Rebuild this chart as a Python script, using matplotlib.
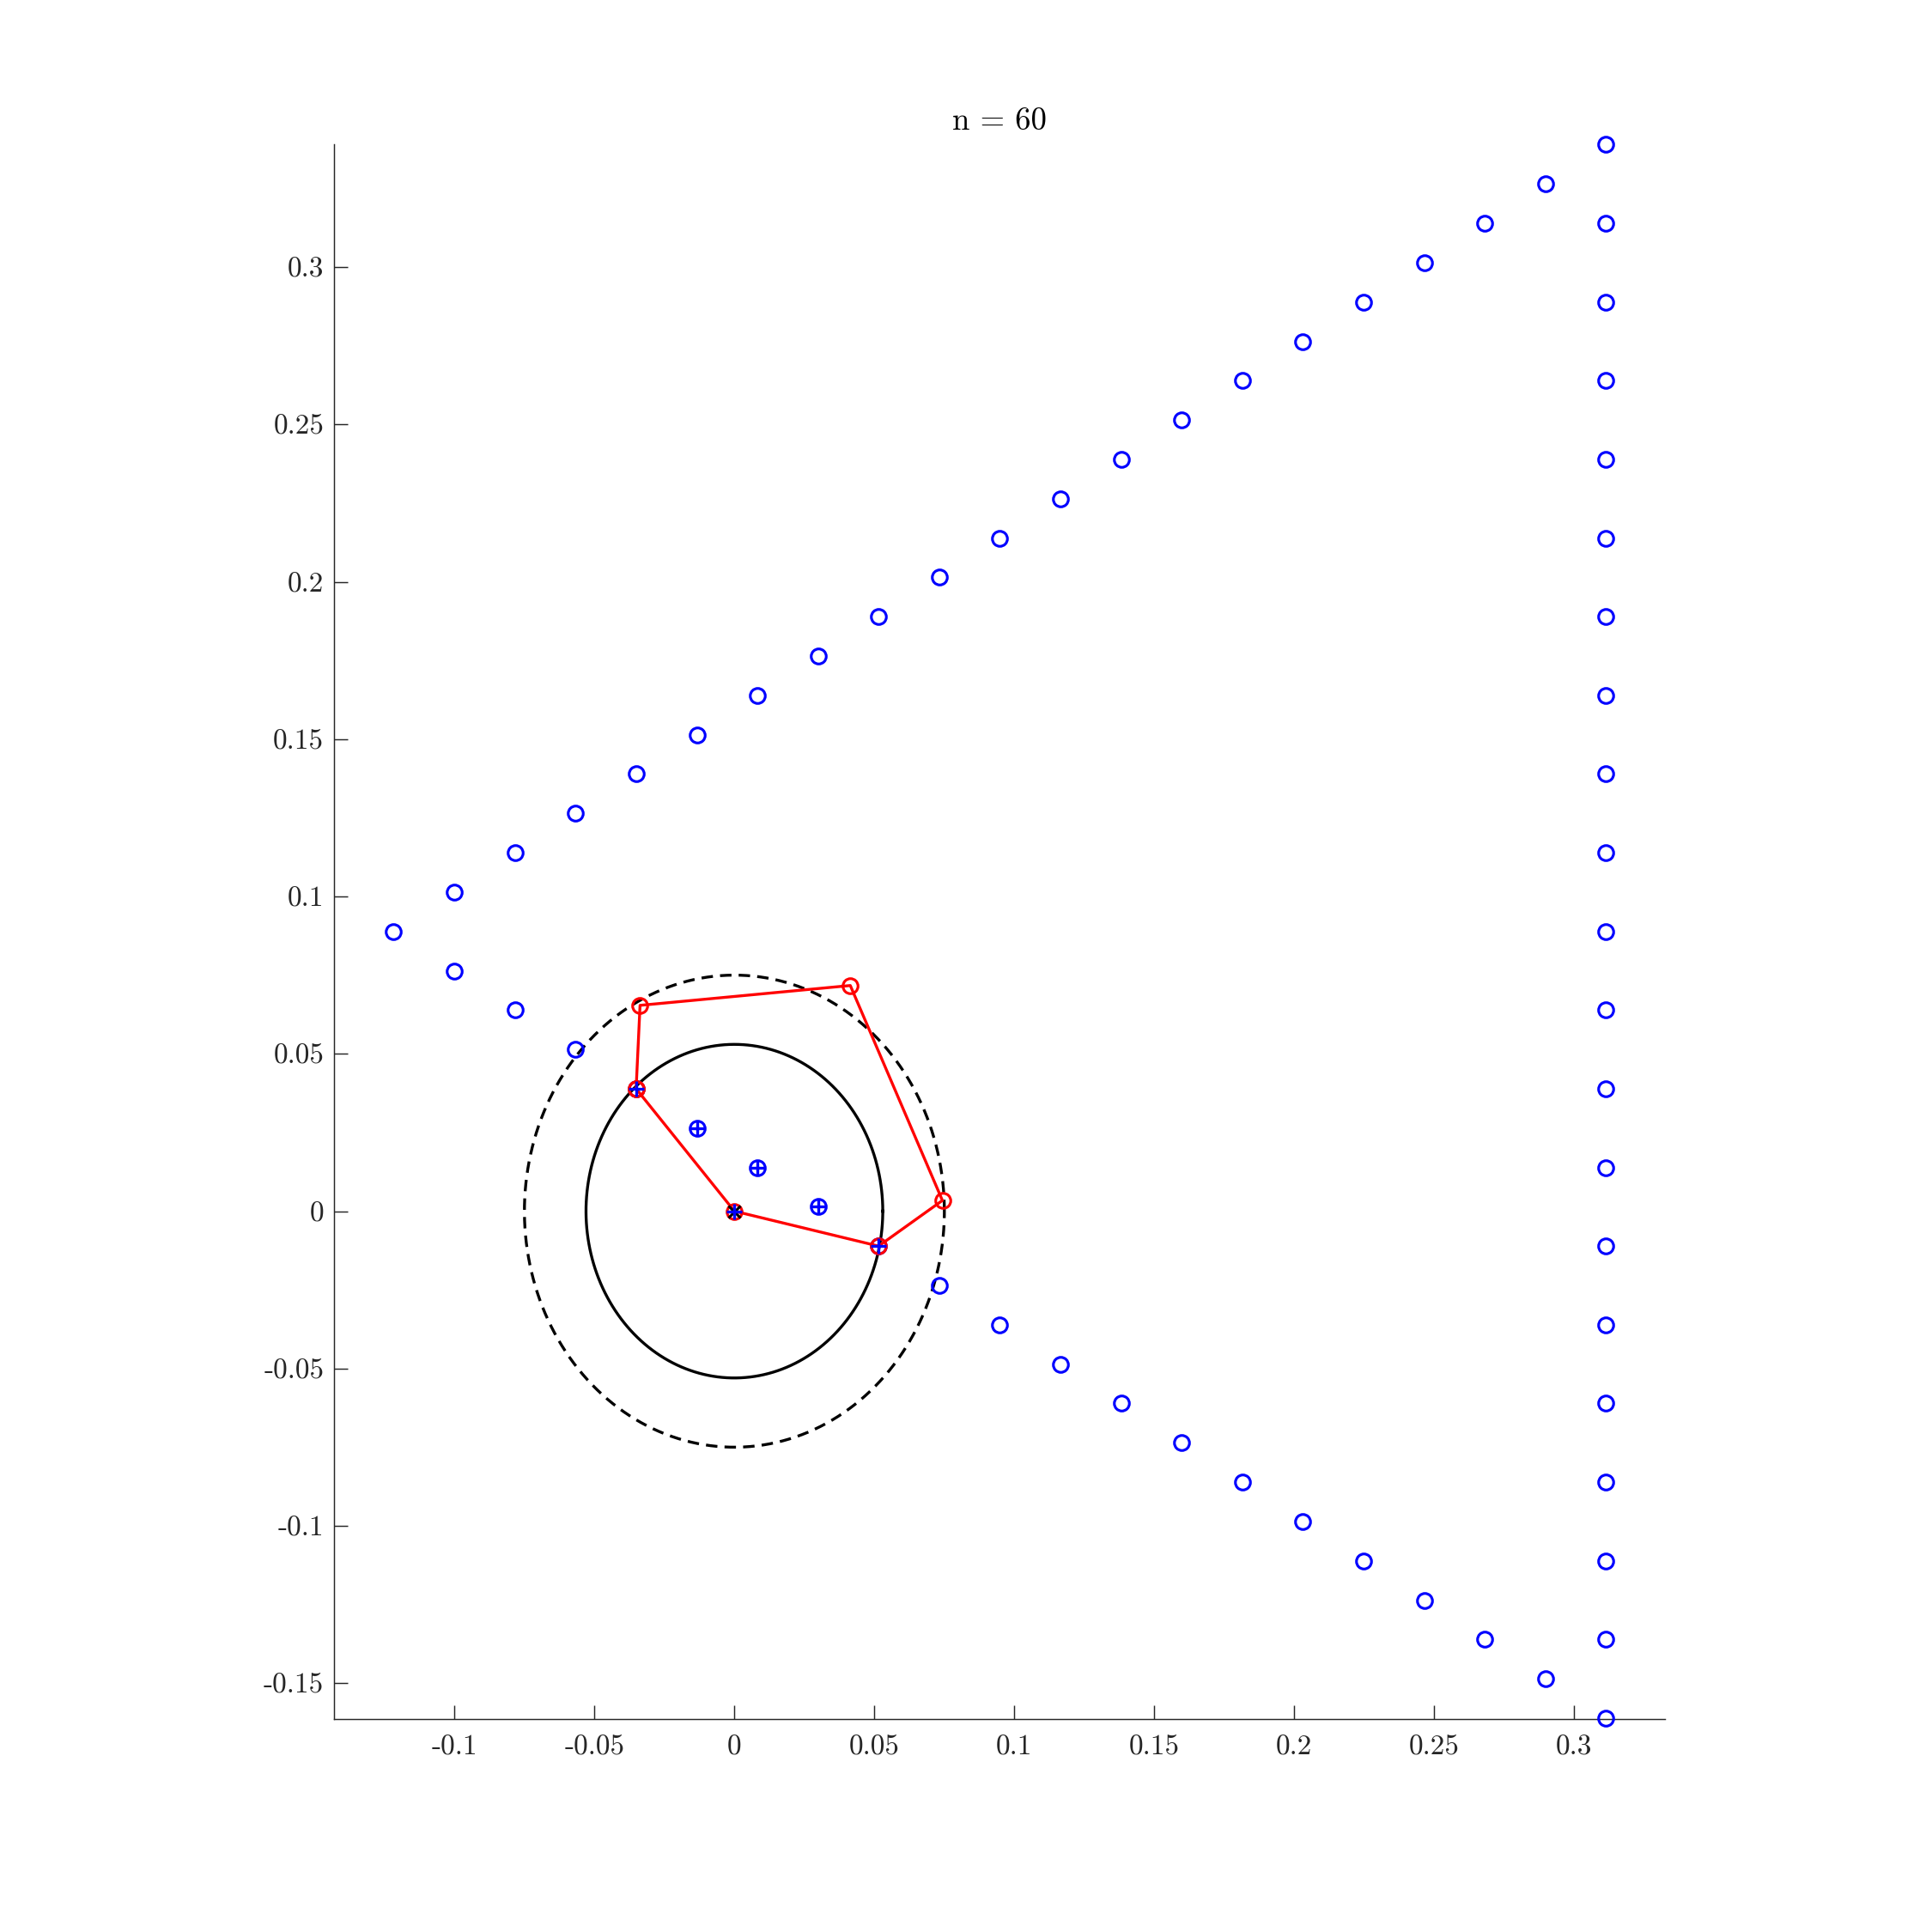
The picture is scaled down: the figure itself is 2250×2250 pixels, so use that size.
import numpy as np
import matplotlib
matplotlib.use('Agg')
import matplotlib.pyplot as plt

plt.rcParams['font.family'] = ['cmr10', 'DejaVu Serif']
plt.rcParams['axes.formatter.use_mathtext'] = True

# triangle boundary points (n = 60)
upper_x = [-0.1217, -0.1000, -0.0784, -0.0567, -0.0351, -0.0134, 0.0082, 0.0299, 0.0515, 0.0732,
           0.0948, 0.1165, 0.1381, 0.1598, 0.1814, 0.2031, 0.2247, 0.2464, 0.2680, 0.2897]
upper_y = [0.0889, 0.1014, 0.1139, 0.1264, 0.1389, 0.1514, 0.1639, 0.1764, 0.1889, 0.2014,
           0.2139, 0.2264, 0.2389, 0.2514, 0.2639, 0.2764, 0.2889, 0.3014, 0.3139, 0.3264]
right_x = [0.3113] * 20
right_y = [0.3389, 0.3139, 0.2889, 0.2639, 0.2389, 0.2139, 0.1889, 0.1639, 0.1389, 0.1139,
           0.0889, 0.0639, 0.0389, 0.0139, -0.0111, -0.0361, -0.0611, -0.0861, -0.1111, -0.1361]
lower_x = [0.3113, 0.2897, 0.2680, 0.2464, 0.2247, 0.2031, 0.1814, 0.1598, 0.1381, 0.1165,
           0.0948, 0.0732, 0.0515, 0.0299, 0.0082, -0.0134, -0.0351, -0.0567, -0.0784, -0.1000]
lower_y = [-0.1611, -0.1486, -0.1361, -0.1236, -0.1111, -0.0986, -0.0861, -0.0736, -0.0611, -0.0486,
           -0.0361, -0.0236, -0.0111, 0.0014, 0.0139, 0.0264, 0.0389, 0.0514, 0.0639, 0.0764]

# points marked with '+'
inner_x = [0.0, 0.0515, 0.0299, 0.0082, -0.0134, -0.0351]
inner_y = [0.0, -0.0111, 0.0014, 0.0139, 0.0264, 0.0389]

# red polygon
poly_x = [-0.0351, -0.0337, 0.0414, 0.0743, 0.0515, 0.0, -0.0351]
poly_y = [0.0389, 0.0654, 0.0717, 0.0034, -0.0111, 0.0, 0.0389]

r_inner = 0.053
r_outer = 0.075

xticks = [-0.1, -0.05, 0, 0.05, 0.1, 0.15, 0.2, 0.25, 0.3]
xlabels = ['-0.1', '-0.05', '0', '0.05', '0.1', '0.15', '0.2', '0.25', '0.3']
yticks = [-0.15, -0.1, -0.05, 0, 0.05, 0.1, 0.15, 0.2, 0.25, 0.3]
ylabels = ['-0.15', '-0.1', '-0.05', '0', '0.05', '0.1', '0.15', '0.2', '0.25', '0.3']

fig = plt.figure(figsize=(7.5, 7.5), dpi=300)
ax = fig.add_axes([0.1729, 0.1102, 0.6889, 0.8151])

all_x = upper_x + right_x + lower_x
all_y = upper_y + right_y + lower_y
ax.plot(all_x, all_y, 'o', color='blue', ms=4.2, mew=0.75, mfc='none', clip_on=False, zorder=3)

t = np.linspace(0, 2 * np.pi, 400)
ax.plot(r_inner * np.cos(t), r_inner * np.sin(t), '-', color='black', lw=0.8, zorder=2)
ax.plot(r_outer * np.cos(t), r_outer * np.sin(t), '--', color='black', lw=0.8,
        dashes=(4, 2.5), zorder=2)

ax.plot(poly_x, poly_y, '-o', color='red', lw=0.8, ms=4.2, mew=0.75, mfc='none', zorder=4)
ax.plot([0], [0], 'x', color='black', ms=3.5, mew=0.75, zorder=5)
ax.plot(inner_x, inner_y, '+', color='blue', ms=4.3, mew=0.8, zorder=6)

ax.set_xlim(-0.1430, 0.3324)
ax.set_ylim(-0.1614, 0.3390)
ax.set_xticks(xticks)
ax.set_xticklabels(xlabels)
ax.set_yticks(yticks)
ax.set_yticklabels(ylabels)

for s in ['top', 'right']:
    ax.spines[s].set_visible(False)
for s in ['left', 'bottom']:
    ax.spines[s].set_linewidth(0.35)
    ax.spines[s].set_color('#262626')
ax.tick_params(direction='in', length=3.9, width=0.35, color='#262626',
               labelcolor='#262626', labelsize=8)
ax.tick_params(axis='x', pad=4.5)
ax.tick_params(axis='y', pad=2.8)

ax.set_title('n = 60', fontsize=8.8, pad=4, color='black')

plt.savefig('out.png', dpi=300)
